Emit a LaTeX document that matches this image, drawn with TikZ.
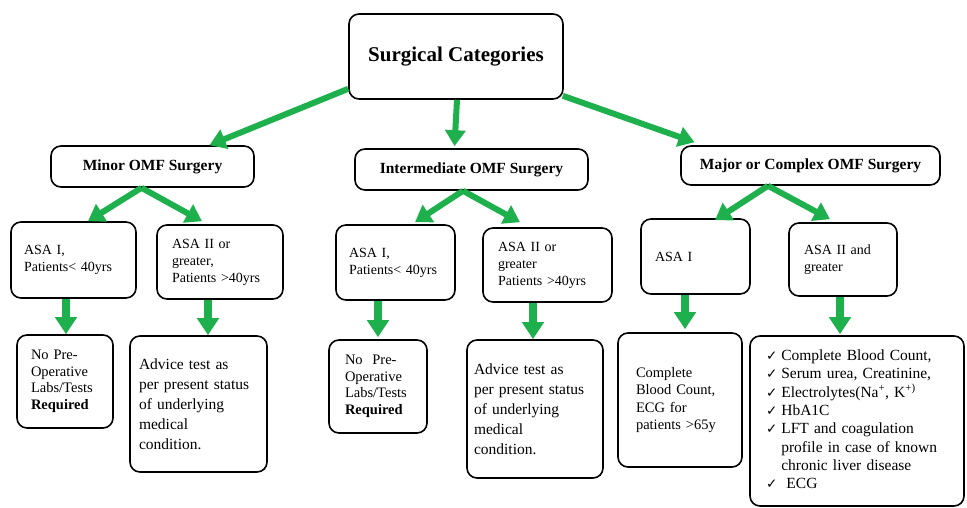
\documentclass[tikz,border=0pt]{standalone}
\usepackage{fontspec}
\setmainfont{Liberation Serif}
\newfontfamily\dejavu{DejaVu Sans}
\usetikzlibrary{arrows.meta}
\definecolor{grn}{RGB}{30,176,76}
\newcommand\ck{{\dejavu\fontsize{13.5}{13.5}\selectfont ✓}}
\begin{document}
\begin{tikzpicture}[x=1pt,y=-1pt,
  box/.style={draw, line width=1.6pt, rounded corners=10pt, inner sep=0pt, align=left},
  headbox/.style={box, align=center, font=\bfseries\fontsize{15.5}{18}\selectfont},
  smalltxt/.style={font=\fontsize{14}{17}\selectfont},
  medtxt/.style={font=\fontsize{14.5}{16.5}\selectfont},
  bigtxt/.style={font=\fontsize{15.5}{20}\selectfont},
  garrow/.style={draw=grn, line width=6pt, -{Triangle[length=16pt,width=20pt]}, grn},
  darrow/.style={draw=grn, line width=8pt, -{Triangle[length=17pt,width=21pt]}, grn}
]
\useasboundingbox (0,0) rectangle (967,508);
% top
\node[box, align=center, minimum width=214pt, minimum height=85pt,
      font=\bfseries\fontsize{21}{24}\selectfont] (top) at (456,56.5) {Surgical Categories};
% level 2
\node[headbox, minimum width=203pt, minimum height=41pt] (minor) at (152.5,166.5) {Minor OMF Surgery};
\node[headbox, minimum width=233pt, minimum height=41pt] (inter) at (471.5,169.5) {Intermediate OMF Surgery};
\node[headbox, minimum width=259pt, minimum height=39pt] (major) at (810.5,165.5) {Major or Complex OMF Surgery};
% level 3 minor
\node[box, smalltxt, minimum width=125pt, minimum height=76pt, text width=99pt] (m1) at (73.5,260)
  {ASA I,\\Patients< 40yrs};
\node[box, smalltxt, minimum width=126pt, minimum height=74pt, text width=96pt] (m2) at (220,262)
  {ASA II or\\greater,\\Patients >40yrs};
\node[box, medtxt, minimum width=96pt, minimum height=93pt, text width=68pt] (m3) at (65,381.5)
  {No Pre-\\Operative\\Labs/Tests\\\textbf{Required}};
\node[box, bigtxt, minimum width=137pt, minimum height=136pt, text width=119pt] (m4) at (198.5,404)
  {Advice test as\\per present status\\of underlying\\medical\\condition.\\[4pt]};
% level 3 intermediate
\node[box, smalltxt, minimum width=119pt, minimum height=75pt, text width=93pt] (i1) at (395.5,262.5)
  {ASA I,\\Patients< 40yrs\\[10pt]};
\node[box, smalltxt, minimum width=129pt, minimum height=74pt, text width=99pt] (i2) at (547.5,265)
  {ASA II or\\greater\\Patients >40yrs};
\node[box, medtxt, minimum width=98pt, minimum height=93pt, text width=66pt] (i3) at (378,386.5)
  {No\ \ Pre-\\Operative\\Labs/Tests\\\textbf{Required}};
\node[box, bigtxt, minimum width=136pt, minimum height=138pt, text width=122pt] (i4) at (535,409)
  {Advice test as\\per present status\\of underlying\\medical\\condition.\\[6pt]};
% level 3 major
\node[box, smalltxt, minimum width=109pt, minimum height=75pt, text width=81pt] (j1) at (695.5,256.5)
  {ASA I};
\node[box, smalltxt, minimum width=108pt, minimum height=73pt, text width=78pt] (j2) at (843,259.5)
  {ASA II and\\greater\\[14pt]};
\node[box, medtxt, minimum width=124pt, minimum height=134pt, text width=88pt,
      font=\fontsize{14.5}{17.5}\selectfont] (j3) at (680,400)
  {Complete\\Blood Count,\\ECG for\\patients >65y};
\node[box, minimum width=214pt, minimum height=170pt, text width=182pt,
      font=\fontsize{15.5}{18.3}\selectfont] (j4) at (857,421)
  {\begin{tabular}{@{}l@{\hspace{4pt}}l@{}}
   \ck & Complete Blood Count,\\
   \ck & Serum urea, Creatinine,\\
   \ck & Electrolytes(Na\textsuperscript{+}, K\textsuperscript{+)}\\
   \ck & HbA1C\\
   \ck & LFT and coagulation\\
       & profile in case of known\\
       & chronic liver disease\\
   \ck & \ ECG
   \end{tabular}};
% arrows from top
\draw[garrow] ([yshift=11pt]top.south west) -- ([xshift=57pt]minor.north);
\draw[garrow] ([xshift=1pt]top.south) -- ([xshift=-17pt,yshift=2pt]inter.north);
\draw[garrow] ([xshift=-1pt,yshift=4pt]top.south east) -- ([xshift=-116pt,yshift=3pt]major.north);
% level 2 to level 3
\draw[garrow] ([xshift=-11pt]minor.south) -- ([xshift=14.5pt]m1.north);
\draw[garrow] ([xshift=-11pt]minor.south) -- ([xshift=-18pt,yshift=3pt]m2.north);
\draw[garrow] ([xshift=-8.5pt]inter.south) -- ([xshift=19.5pt,yshift=2pt]i1.north);
\draw[garrow] ([xshift=-8.5pt]inter.south) -- ([xshift=-27.5pt,yshift=5pt]i2.north);
\draw[garrow] ([xshift=-42.5pt]major.south) -- ([xshift=19.5pt,yshift=-2pt]j1.north);
\draw[garrow] ([xshift=-42.5pt]major.south) -- ([xshift=-13pt,yshift=3pt]j2.north);
% down arrows
\draw[darrow] ([xshift=-7.5pt]m1.south) -- ([xshift=1pt]m3.north);
\draw[darrow] ([xshift=-12pt]m2.south) -- ([xshift=9.5pt]m4.north);
\draw[darrow] ([xshift=-17.5pt]i1.south) -- ([yshift=2pt]i3.north);
\draw[darrow] ([xshift=-14.5pt]i2.south) -- ([xshift=-2pt]i4.north);
\draw[darrow] ([xshift=-10.5pt]j1.south) -- ([xshift=5pt,yshift=3pt]j3.north);
\draw[darrow] ([xshift=-3pt]j2.south) -- ([xshift=-17pt,yshift=1pt]j4.north);
\end{tikzpicture}
\end{document}
